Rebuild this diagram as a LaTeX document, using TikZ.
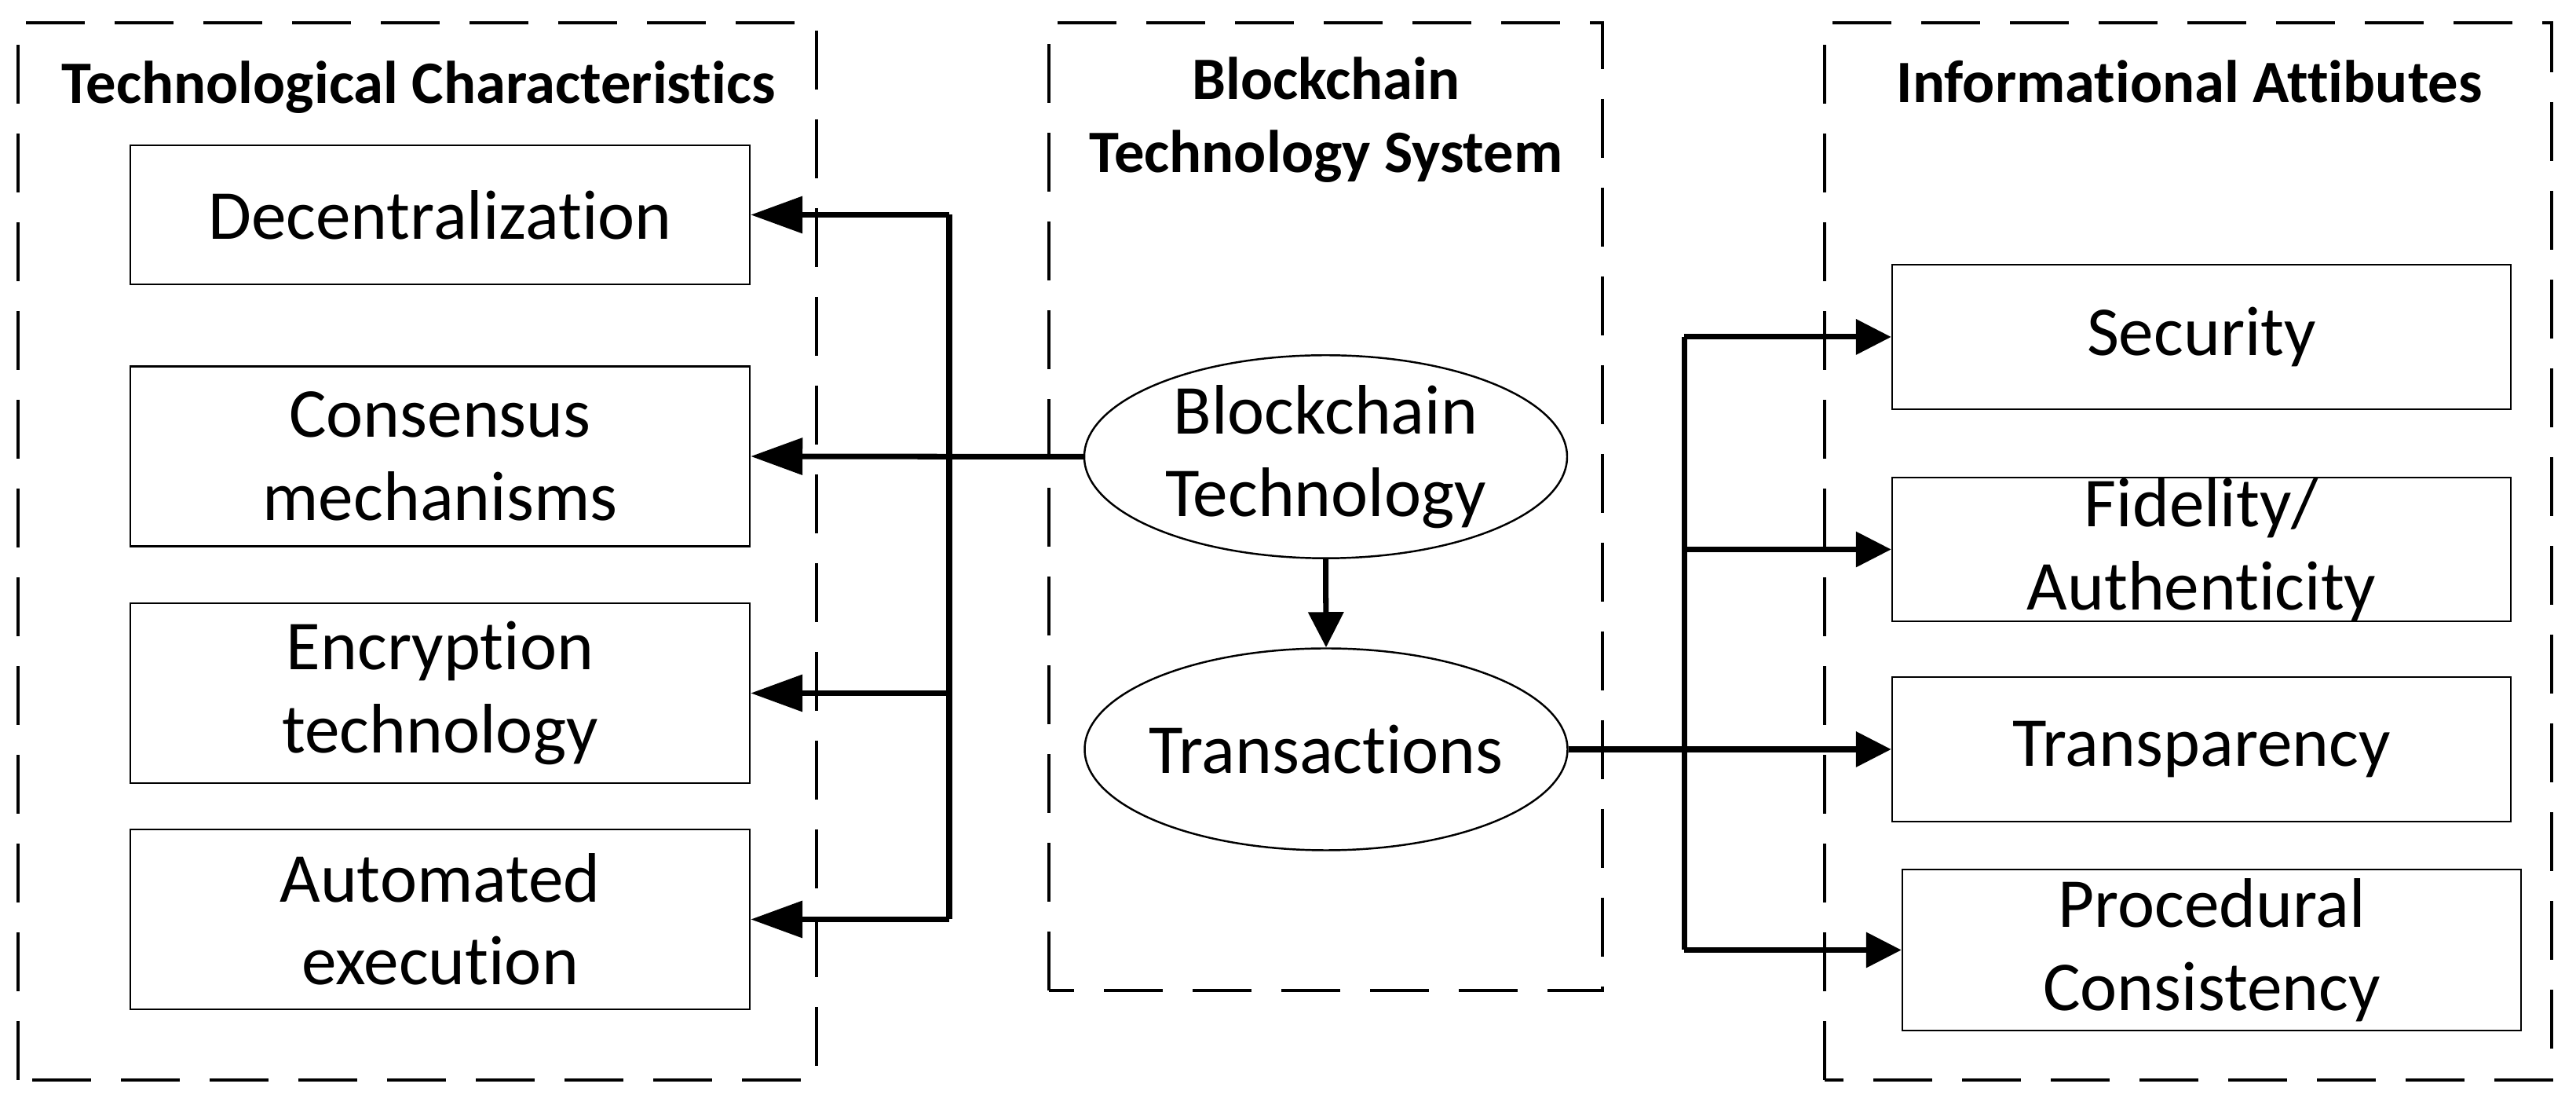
\documentclass[tikz,border=0pt]{standalone}
\usepackage{fontspec}
\setmainfont[Ligatures=NoCommon]{Carlito}
\usetikzlibrary{arrows.meta,shapes.geometric}

\begin{document}
\begin{tikzpicture}[
    box/.style={draw, line width=0.7pt, align=center, inner sep=0pt,
        minimum width=7.89cm, minimum height=2.29cm,
        font=\fontsize{25.4}{30}\selectfont},
    oval/.style={draw, ellipse, line width=0.7pt, align=center,
        inner xsep=-0.2cm, inner ysep=0pt,
        minimum width=6.15cm, minimum height=2.57cm,
        font=\fontsize{25.4}{30}\selectfont},
    title/.style={align=center, font=\bfseries\fontsize{21.8}{26.5}\selectfont},
    group/.style={line width=1.4pt, dash pattern=on 0.75cm off 0.38cm},
    conn/.style={line width=2pt},
    larrow/.style={conn, -{Triangle[length=0.66cm, width=0.46cm]}},
    rarrow/.style={conn, -{Triangle[length=0.45cm, width=0.44cm]}}
]
    \useasboundingbox (0,0) rectangle (32.81,14.03);

    % 三个虚线框
    \draw[group] (0.23,0.28) rectangle (10.40,13.74);
    \draw[group] (13.36,1.42) rectangle (20.41,13.74);
    \draw[group] (23.24,0.28) rectangle (32.50,13.74);

    % 框标题
    \node[title, anchor=base] (tc) at (5.33,12.71) {Technological Characteristics};
    \node[title] (bts) at (16.89,12.50) {Blockchain\\Technology System};
    \node[title, anchor=base] (ia) at (27.885,12.72) {Informational Attibutes};

    % 左侧: 技术特征
    \node[box, minimum height=1.77cm] (dec) at (5.605,11.295) {Decentralization};
    \node[box] (cons) at (5.605,8.22) {Consensus\\mechanisms};
    \node[box] (enc) at (5.605,5.205) {Encryption\\technology};
    \node[box] (exe) at (5.605,2.325) {Automated\\execution};

    % 中间: 区块链技术
    \node[oval] (bt) at (16.885,8.215) {Blockchain\\Technology};
    \node[oval] (tx) at (16.89,4.49) {Transactions};

    % 右侧: 信息属性
    \node[box, minimum width=7.88cm, minimum height=1.84cm] (sec) at (28.04,9.74) {Security};
    \node[box, minimum width=7.88cm, minimum height=1.83cm] (fid) at (28.04,7.035) {Fidelity/\\Authenticity};
    \node[box, minimum width=7.88cm, minimum height=1.84cm] (trans) at (28.04,4.49) {Transparency};
    \node[box, minimum width=7.88cm, minimum height=2.05cm] (proc) at (28.17,1.935) {Procedural\\Consistency};

    % 左侧连线
    \coordinate (lt) at (12.09,0);
    \draw[larrow] (bt.west) -- (cons.east);
    \draw[conn] (lt |- dec.east) -- (lt |- exe.east);
    \foreach \n in {dec,enc,exe}
        \draw[larrow] (lt |- \n.east) -- (\n.east);

    % 中间箭头
    \draw[rarrow] (bt.south) -- (tx.north);

    % 右侧连线
    \coordinate (rt) at (21.45,0);
    \draw[rarrow] (tx.east) -- (trans.west);
    \draw[conn] (rt |- sec.west) -- (rt |- proc.west);
    \foreach \n in {sec,fid,proc}
        \draw[rarrow] (rt |- \n.west) -- (\n.west);
\end{tikzpicture}
\end{document}
